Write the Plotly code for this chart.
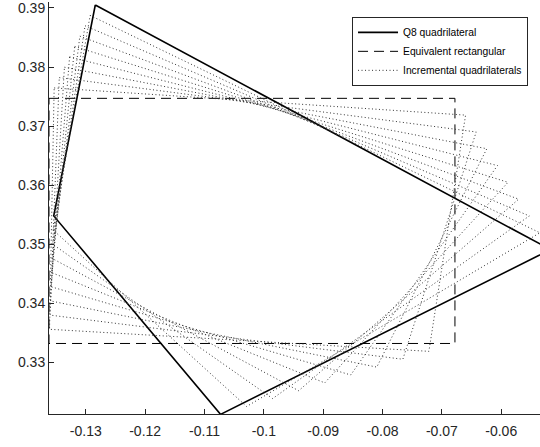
import plotly.graph_objects as go

# Q8 quadrilateral vertices (top, right, bottom, left)
q8_x = [-0.1284, -0.0517, -0.1073, -0.1354]
q8_y = [0.3905, 0.3491, 0.3212, 0.3548]

# Equivalent rectangle (top-left, top-right, bottom-right, bottom-left)
rect_x = [-0.1362, -0.0678, -0.0678, -0.1362]
rect_y = [0.3747, 0.3747, 0.3332, 0.3332]

# Incremental quadrilaterals, one row of four vertices each
inc_x = [
    [-0.13533, -0.06601, -0.07219, -0.13611],
    [-0.13447, -0.06422, -0.07658, -0.13602],
    [-0.13360, -0.06243, -0.08097, -0.13593],
    [-0.13273, -0.06064, -0.08536, -0.13584],
    [-0.13187, -0.05886, -0.08974, -0.13576],
    [-0.13100, -0.05707, -0.09413, -0.13567],
    [-0.13013, -0.05528, -0.09852, -0.13558],
    [-0.12927, -0.05349, -0.10291, -0.13549],
]
inc_y = [
    [0.37646, 0.37186, 0.33187, 0.33560],
    [0.37821, 0.36901, 0.33053, 0.33800],
    [0.37997, 0.36617, 0.32920, 0.34040],
    [0.38172, 0.36332, 0.32787, 0.34280],
    [0.38348, 0.36048, 0.32653, 0.34520],
    [0.38523, 0.35763, 0.32520, 0.34760],
    [0.38699, 0.35479, 0.32387, 0.35000],
    [0.38874, 0.35194, 0.32253, 0.35240],
]

x_ticks = [-0.13, -0.12, -0.11, -0.10, -0.09, -0.08, -0.07, -0.06]
x_tick_labels = ["-0.13", "-0.12", "-0.11", "-0.1", "-0.09", "-0.08", "-0.07", "-0.06"]
y_ticks = [0.33, 0.34, 0.35, 0.36, 0.37, 0.38, 0.39]
y_tick_labels = ["0.33", "0.34", "0.35", "0.36", "0.37", "0.38", "0.39"]


def closed(pts):
    return list(pts) + [pts[0]]


# all incremental quadrilaterals in one trace, separated by gaps
ix, iy = [], []
for xs, ys in zip(inc_x, inc_y):
    ix += closed(xs) + [None]
    iy += closed(ys) + [None]

fig = go.Figure()
fig.add_trace(go.Scatter(
    x=closed(q8_x), y=closed(q8_y), mode="lines",
    name="Q8 quadrilateral",
    line=dict(color="black", width=1.6),
))
fig.add_trace(go.Scatter(
    x=closed(rect_x), y=closed(rect_y), mode="lines",
    name="Equivalent rectangular",
    line=dict(color="black", width=1, dash="10px,6px"),
))
fig.add_trace(go.Scatter(
    x=ix, y=iy, mode="lines", connectgaps=False,
    name="Incremental quadrilaterals",
    line=dict(color="#333333", width=1, dash="1px,2.5px"),
))

font_family = "Liberation Sans, Arial, sans-serif"
axis_font = dict(family=font_family, size=14, color="#262626")

fig.update_layout(
    width=540, height=447,
    margin=dict(l=49, r=0, t=0, b=33),
    paper_bgcolor="white", plot_bgcolor="white",
    showlegend=True,
    legend=dict(
        x=0.9756, y=0.964, xanchor="right", yanchor="top",
        bgcolor="white", bordercolor="#262626", borderwidth=1,
        font=dict(family=font_family, size=10.3, color="black"),
        tracegroupgap=0, itemwidth=40,
    ),
    xaxis=dict(
        range=[-0.1362, -0.05347],
        tickvals=x_ticks, ticktext=x_tick_labels,
        ticks="inside", ticklen=5, tickcolor="#262626", tickwidth=1,
        showline=True, linecolor="#262626", linewidth=1, mirror=False,
        showgrid=False, zeroline=False, tickfont=axis_font,
        ticklabelstandoff=4,
    ),
    yaxis=dict(
        range=[0.32126, 0.39101],
        tickvals=y_ticks, ticktext=y_tick_labels,
        ticks="inside", ticklen=5, tickcolor="#262626", tickwidth=1,
        showline=True, linecolor="#262626", linewidth=1, mirror=False,
        showgrid=False, zeroline=False, tickfont=axis_font,
        ticklabeloverflow="allow",
    ),
)

fig.write_html("out.html")
